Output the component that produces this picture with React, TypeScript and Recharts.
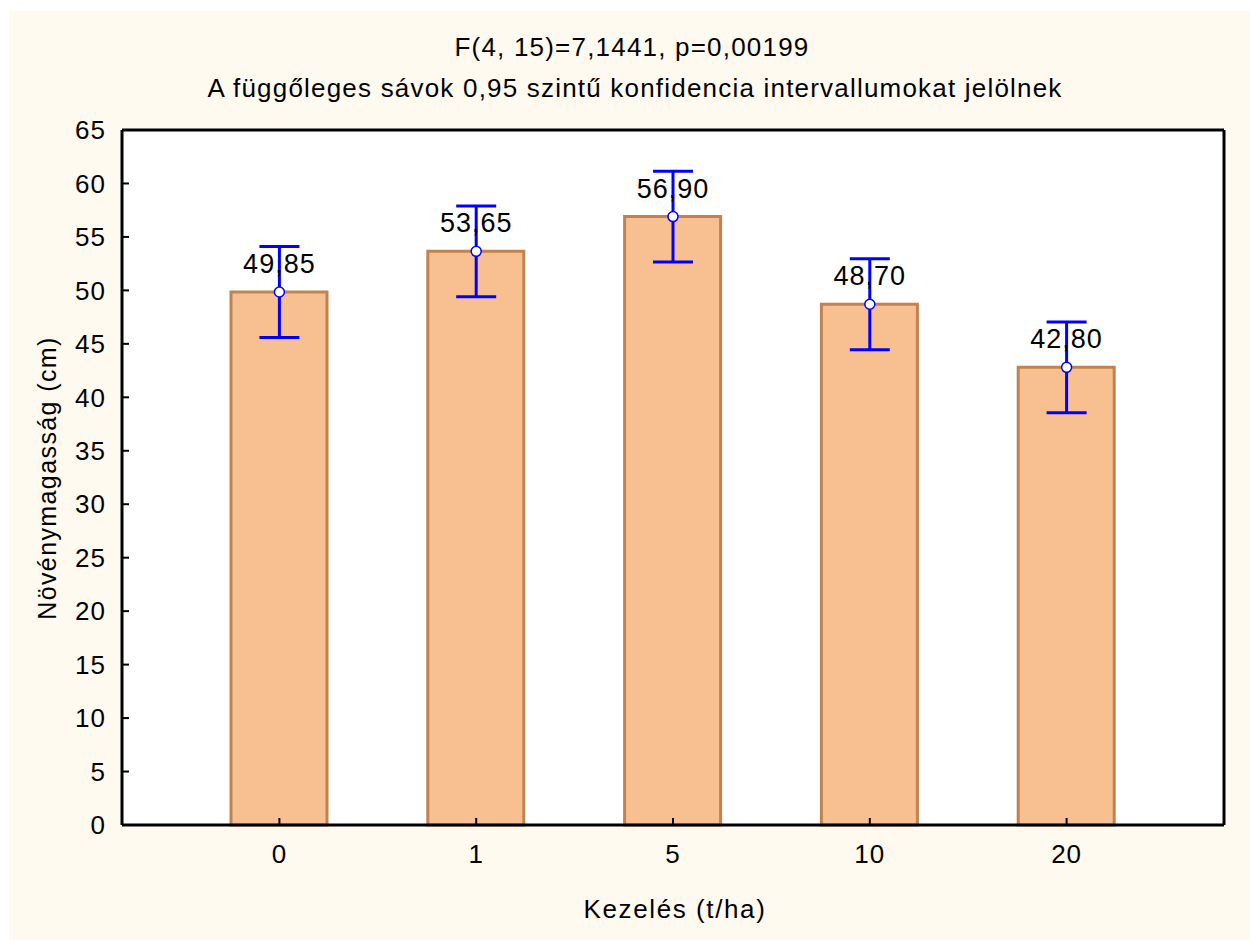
import React from 'react'
import {
  ComposedChart,
  Bar,
  Line,
  XAxis,
  YAxis,
  CartesianGrid,
  ErrorBar,
  LabelList,
} from 'recharts'

const categories = ['0', '1', '5', '10', '20']
const means = [49.85, 53.65, 56.9, 48.7, 42.8]
const ciHalf = [4.25, 4.25, 4.25, 4.25, 4.25]
const yTicks = [0, 5, 10, 15, 20, 25, 30, 35, 40, 45, 50, 55, 60, 65]

const data = categories.map((name, i) => ({ name, mean: means[i], ci: ciHalf[i] }))

const FONT = "'Liberation Sans', Arial, sans-serif"
const BAR_FILL = '#F8C090'
const BAR_STROKE = '#C0834F'
const BLUE = '#0000FF'

// decimal comma like the original
const fmt = (v: number) => v.toFixed(2).replace('.', ',')

const textStyle: React.CSSProperties = {
  position: 'absolute',
  fontFamily: FONT,
  color: '#000',
  whiteSpace: 'nowrap',
  lineHeight: 1,
}

export default function App() {
  return (
    <div style={{ position: 'absolute', left: 0, top: 0, width: 1250, height: 940, background: '#fff' }}>
      <div style={{ position: 'absolute', left: 9, top: 11, right: 0, bottom: 0, background: '#FFFAF0' }} />

      <div style={{ ...textStyle, left: 0, width: 1264, top: 34, textAlign: 'center', fontSize: 26, letterSpacing: 1.2 }}>
        F(4, 15)=7,1441, p=0,00199
      </div>
      <div style={{ ...textStyle, left: 0, width: 1270, top: 75, textAlign: 'center', fontSize: 26, letterSpacing: 1.2 }}>
        A függőleges sávok 0,95 szintű konfidencia intervallumokat jelölnek
      </div>
      <div
        style={{
          ...textStyle,
          left: 47,
          top: 478,
          fontSize: 25,
          letterSpacing: 1.4,
          transform: 'translate(-50%, -50%) rotate(-90deg)',
        }}
      >
        Növénymagasság (cm)
      </div>
      <div style={{ ...textStyle, left: 0, width: 1350, top: 896, textAlign: 'center', fontSize: 26, letterSpacing: 1.6 }}>
        Kezelés (t/ha)
      </div>

      <div style={{ position: 'absolute', left: 0, top: 0 }}>
        <ComposedChart
          width={1250}
          height={940}
          data={data}
          margin={{ top: 129, right: 0, bottom: 0, left: 0 }}
          barCategoryGap="25%"
        >
          <CartesianGrid
            vertical={false}
            fill="#fff"
            stroke="#c8c8c8"
            strokeDasharray="5 3"
          />
          <XAxis
            dataKey="name"
            xAxisId="bottom"
            height={115}
            padding={{ left: 59, right: 59 }}
            axisLine={{ stroke: '#000', strokeWidth: 3 }}
            tickLine={{ stroke: '#000', strokeWidth: 2 }}
            tickSize={-7}
            tickMargin={27}
            tick={{ fill: '#000', fontSize: 26, fontFamily: FONT, letterSpacing: 1 }}
          />
          <XAxis
            dataKey="name"
            xAxisId="top"
            orientation="top"
            height={1}
            padding={{ left: 59, right: 59 }}
            axisLine={{ stroke: '#000', strokeWidth: 3 }}
            tickLine={{ stroke: '#000', strokeWidth: 2 }}
            tickSize={-7}
            tick={false}
          />
          <YAxis
            yAxisId="left"
            width={122}
            domain={[0, 65]}
            ticks={yTicks}
            interval={0}
            axisLine={{ stroke: '#000', strokeWidth: 3 }}
            tickLine={{ stroke: '#000', strokeWidth: 2 }}
            tickSize={-7}
            tickMargin={23}
            tick={{ fill: '#000', fontSize: 26, fontFamily: FONT, letterSpacing: 1 }}
          />
          <YAxis
            yAxisId="right"
            orientation="right"
            width={26}
            domain={[0, 65]}
            ticks={yTicks}
            interval={0}
            axisLine={{ stroke: '#000', strokeWidth: 3 }}
            tickLine={{ stroke: '#000', strokeWidth: 2 }}
            tickSize={-7}
            tick={false}
          />
          <Bar
            dataKey="mean"
            xAxisId="bottom"
            yAxisId="left"
            barSize={96}
            fill={BAR_FILL}
            stroke={BAR_STROKE}
            strokeWidth={3}
            isAnimationActive={false}
          />
          <Line
            dataKey="mean"
            xAxisId="top"
            yAxisId="right"
            stroke="none"
            dot={{ r: 5, fill: '#fff', stroke: BLUE, strokeWidth: 1.5 }}
            activeDot={false}
            isAnimationActive={false}
          >
            <ErrorBar dataKey="ci" width={20} stroke={BLUE} strokeWidth={3} />
            <LabelList
              dataKey="mean"
              position="top"
              offset={19}
              formatter={(v: number) => fmt(v)}
              fill="#000"
              fontSize={27}
              fontFamily={FONT}
              letterSpacing={1}
            />
          </Line>
        </ComposedChart>
      </div>
    </div>
  )
}
